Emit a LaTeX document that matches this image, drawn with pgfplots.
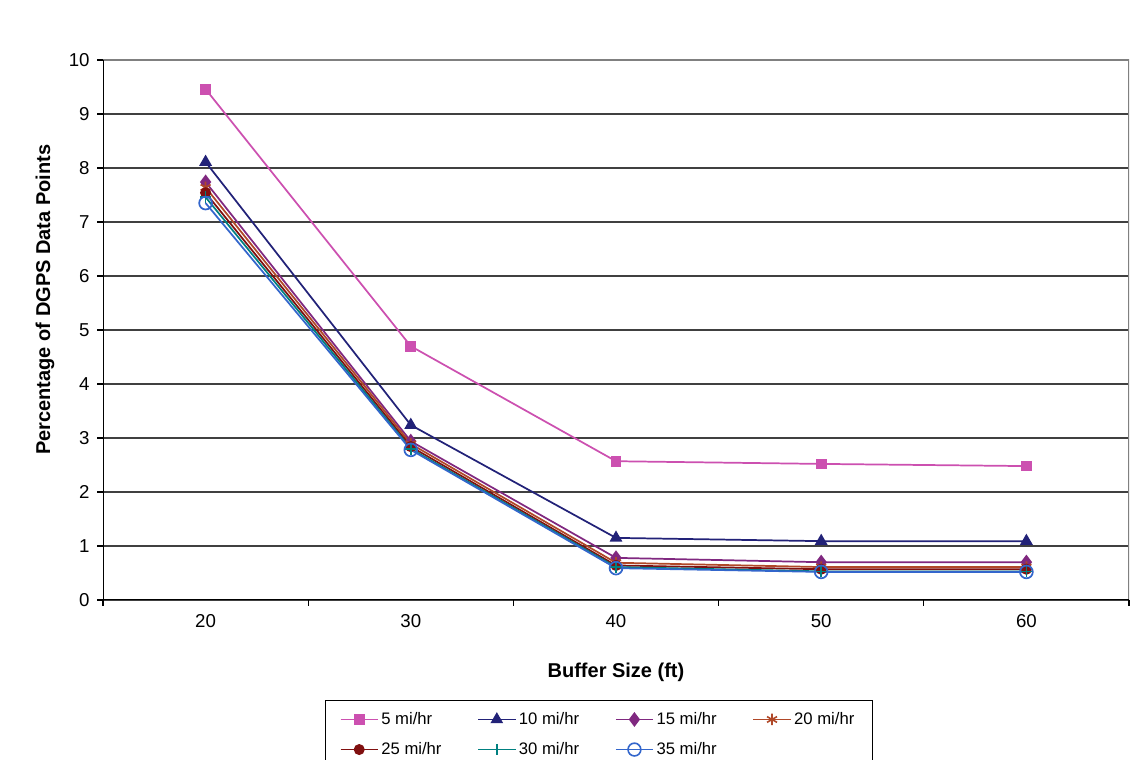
\documentclass[border=0pt]{standalone}
\usepackage{pgfplots}
\pgfplotsset{compat=1.18}
\usepackage{fontspec}
\setmainfont{Liberation Sans}
\definecolor{c5}{RGB}{204,80,176}
\definecolor{c10}{RGB}{34,34,120}
\definecolor{c15}{RGB}{128,40,128}
\definecolor{c20}{RGB}{176,72,40}
\definecolor{c25}{RGB}{128,16,16}
\definecolor{c30}{RGB}{0,128,128}
\definecolor{c35}{RGB}{51,102,204}
\begin{document}
\begin{tikzpicture}
\useasboundingbox (0pt,0pt) rectangle (851.25pt,570pt);
\begin{axis}[
  at={(77.25pt,120pt)}, anchor=south west,
  scale only axis, width=769.5pt, height=405pt,
  xmin=15, xmax=65, ymin=0, ymax=10,
  xtick={15,25,35,45,55,65}, xticklabels={},
  extra x ticks={20,30,40,50,60},
  extra x tick labels={20,30,40,50,60},
  extra x tick style={major tick length=0pt},
  ytick={0,1,...,10},
  tick align=outside, major tick length=4.5pt,
  xtick pos=bottom, ytick pos=left,
  tick style={black, line width=0.8pt},
  ymajorgrids, grid style={black!75, line width=0.9pt},
  axis line style={draw=none},
  /pgf/number format/assume math mode=true,
  ticklabel style={font=\fontsize{14}{16}\selectfont},
  xticklabel style={yshift=-7pt},
  yticklabel style={xshift=-2pt},
  xlabel={\textbf{Buffer Size (ft)}},
  ylabel={\textbf{Percentage of DGPS Data Points}},
  label style={font=\fontsize{15}{18}\selectfont},
  xlabel style={at={(axis description cs:0.5,-0.1333)}, anchor=center},
  ylabel style={at={(axis description cs:-0.0565,0.556)}, anchor=center},
  legend columns=4,
  legend style={at={(axis description cs:0.4834,-0.185)}, anchor=north,
    draw=black, line width=0.8pt, font=\fontsize{12.5}{15}\selectfont,
    inner xsep=11pt, inner ysep=7pt, row sep=8pt,
    /tikz/every even column/.append style={column sep=2pt}},
  legend image code/.code={\draw[mark repeat=2,mark phase=2,line width=1.2pt] plot coordinates {(0pt,0pt) (14pt,0pt) (28pt,0pt)};},
  every axis plot/.append style={line width=1.3pt},
]
\addplot[c5, mark=square*, mark size=3.4pt, mark options={fill=c5}] coordinates {(20,9.46) (30,4.70) (40,2.57) (50,2.52) (60,2.48)};
\addlegendentry{\makebox[68pt][l]{5 mi/hr}}
\addplot[c10, mark=triangle*, mark size=4.3pt, mark options={fill=c10}] coordinates {(20,8.11) (30,3.24) (40,1.15) (50,1.09) (60,1.09)};
\addlegendentry{\makebox[68pt][l]{10 mi/hr}}
\addplot[c15, mark=diamond*, mark size=4.6pt, mark options={fill=c15}] coordinates {(20,7.74) (30,2.94) (40,0.78) (50,0.70) (60,0.70)};
\addlegendentry{\makebox[68pt][l]{15 mi/hr}}
\addplot[c20, mark=asterisk, mark size=4.3pt] coordinates {(20,7.64) (30,2.89) (40,0.69) (50,0.61) (60,0.61)};
\addlegendentry{\makebox[46pt][l]{20 mi/hr}}
\addplot[c25, mark=*, mark size=3.5pt, mark options={fill=c25}] coordinates {(20,7.54) (30,2.84) (40,0.64) (50,0.57) (60,0.57)};
\addlegendentry{\makebox[68pt][l]{25 mi/hr}}
\addplot[c30, mark=+, mark size=4.3pt] coordinates {(20,7.46) (30,2.80) (40,0.61) (50,0.53) (60,0.53)};
\addlegendentry{\makebox[68pt][l]{30 mi/hr}}
\addplot[c35, mark=o, mark size=4.8pt] coordinates {(20,7.35) (30,2.78) (40,0.59) (50,0.52) (60,0.52)};
\addlegendentry{\makebox[68pt][l]{35 mi/hr}}
\draw[black!50, line width=1pt] (rel axis cs:0,1) -- (rel axis cs:1,1) -- (rel axis cs:1,0);
\draw[black, line width=1pt] (rel axis cs:0,1) -- (rel axis cs:0,0) -- (rel axis cs:1,0);
\end{axis}
\end{tikzpicture}
\end{document}
